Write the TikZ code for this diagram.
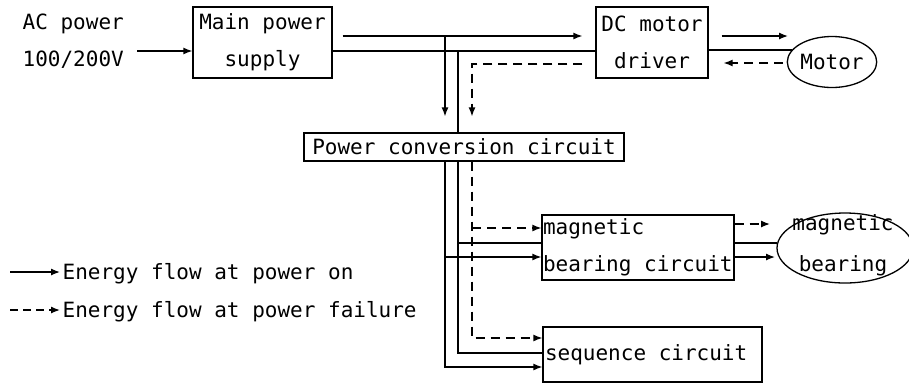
\documentclass[tikz,border=0pt]{standalone}
\usepackage{fontspec}
\setmainfont{DejaVu Sans Mono}
\usetikzlibrary{arrows.meta,shapes.geometric}

\tikzset{
  blk/.style={draw, inner sep=0pt, align=center},
  ein/.style={-{Latex[length=9pt,width=7pt]}},
  aus/.style={ein, dash pattern=on 9pt off 6pt},
}

\begin{document}
\begin{tikzpicture}[x=1pt,y=-1pt,line width=1.3pt,inner sep=0pt,
  font=\fontsize{21}{37}\selectfont]
\useasboundingbox (0,0) rectangle (909,384);

% Bloecke
\node[align=left, anchor=west] (ac) at (22,41.5) {AC power\\100/200V};
\node[blk, minimum width=139pt, minimum height=71pt] (main) at (262.5,42.5) {Main power\\supply};
\node[blk, minimum width=112pt, minimum height=71pt] (dcm) at (652,42.5) {DC motor\\driver};
\node[ellipse, draw, minimum width=85pt, minimum height=51pt] (motor) at (832,62) {Motor};
\node[blk, minimum width=320pt, minimum height=28pt] (pcc) at (464,147) {Power conversion circuit};
\node[blk, align=flush left, text width=190pt, inner xsep=1pt, minimum height=65pt] (mbc) at (638,247.5) {magnetic\\bearing circuit};
\node[blk, align=flush left, text width=215pt, inner xsep=2pt, minimum height=55pt] (seq) at (652.5,354.5) {sequence circuit};
\node[ellipse, draw, minimum width=136pt, minimum height=70pt] (mb) at (845,248) {};
\node[align=center, font=\fontsize{21}{41}\selectfont] (mbtxt) at (843,245) {magnetic\\bearing};

% Hilfspunkte
\coordinate (acin) at (137,51);
\coordinate (vA) at (445,36);
\coordinate (vB) at (458,51);
\coordinate (vC) at (472,64);
\coordinate (mA) at (445,257);
\coordinate (mB) at (458,243);
\coordinate (mC) at (472,228);
\coordinate (sA) at (445,367);
\coordinate (sB) at (458,353);
\coordinate (sC) at (472,338);
\coordinate (bA) at (775,257);
\coordinate (bB) at (777,243);
\coordinate (bC) at (770,224);
\coordinate (mo1) at (788,36);
\coordinate (mo2) at (792,50);
\coordinate (mo3) at (783,63);

% Eingang und Hauptschiene
\draw[ein] (acin) -- (acin -| main.west);
\draw[ein, shorten <=10pt, shorten >=13pt] (vA -| main.east) -- (vA -| dcm.west);
\draw (vB -| main.east) -- (vB -| dcm.west);
\draw[ein, shorten >=16pt] (vA) -- (vA |- pcc.north);
\draw (vB) -- (vB |- pcc.north);
\draw[aus, shorten <=13pt, shorten >=16pt] (vC -| dcm.west) -- (vC) -- (vC |- pcc.north);

% Motor
\draw[ein, shorten <=13pt] (mo1 -| dcm.east) -- (mo1);
\draw (mo2 -| dcm.east) -- (mo2);
\draw[aus, shorten >=15pt] (mo3) -- (mo3 -| dcm.east);

% Verteilung nach unten
\draw[ein] (vA |- pcc.south) -- (sA) -- (sA -| seq.west);
\draw[ein] (mA) -- (mA -| mbc.west);
\draw (vB |- pcc.south) -- (sB) -- (sB -| seq.west);
\draw (mB) -- (mB -| mbc.west);
\draw[aus] (vC |- pcc.south) -- (sC) -- (sC -| seq.west);
\draw[aus] (mC) -- (mC -| mbc.west);

% Magnetlager
\draw[aus] (bC -| mbc.east) -- (bC);
\draw (bB -| mbc.east) -- (bB);
\draw[ein] (bA -| mbc.east) -- (bA);

% Legende
\node[anchor=west] (leg1) at (62,274) {Energy flow at power on};
\node[anchor=west] (leg2) at (62,312) {Energy flow at power failure};
\coordinate (l1) at (10,272);
\coordinate (l2) at (10,310);
\draw[ein, shorten >=2pt] (l1) -- (l1 -| leg1.west);
\draw[aus, dash pattern=on 8pt off 5pt, shorten >=2pt] (l2) -- (l2 -| leg2.west);

\end{tikzpicture}
\end{document}
